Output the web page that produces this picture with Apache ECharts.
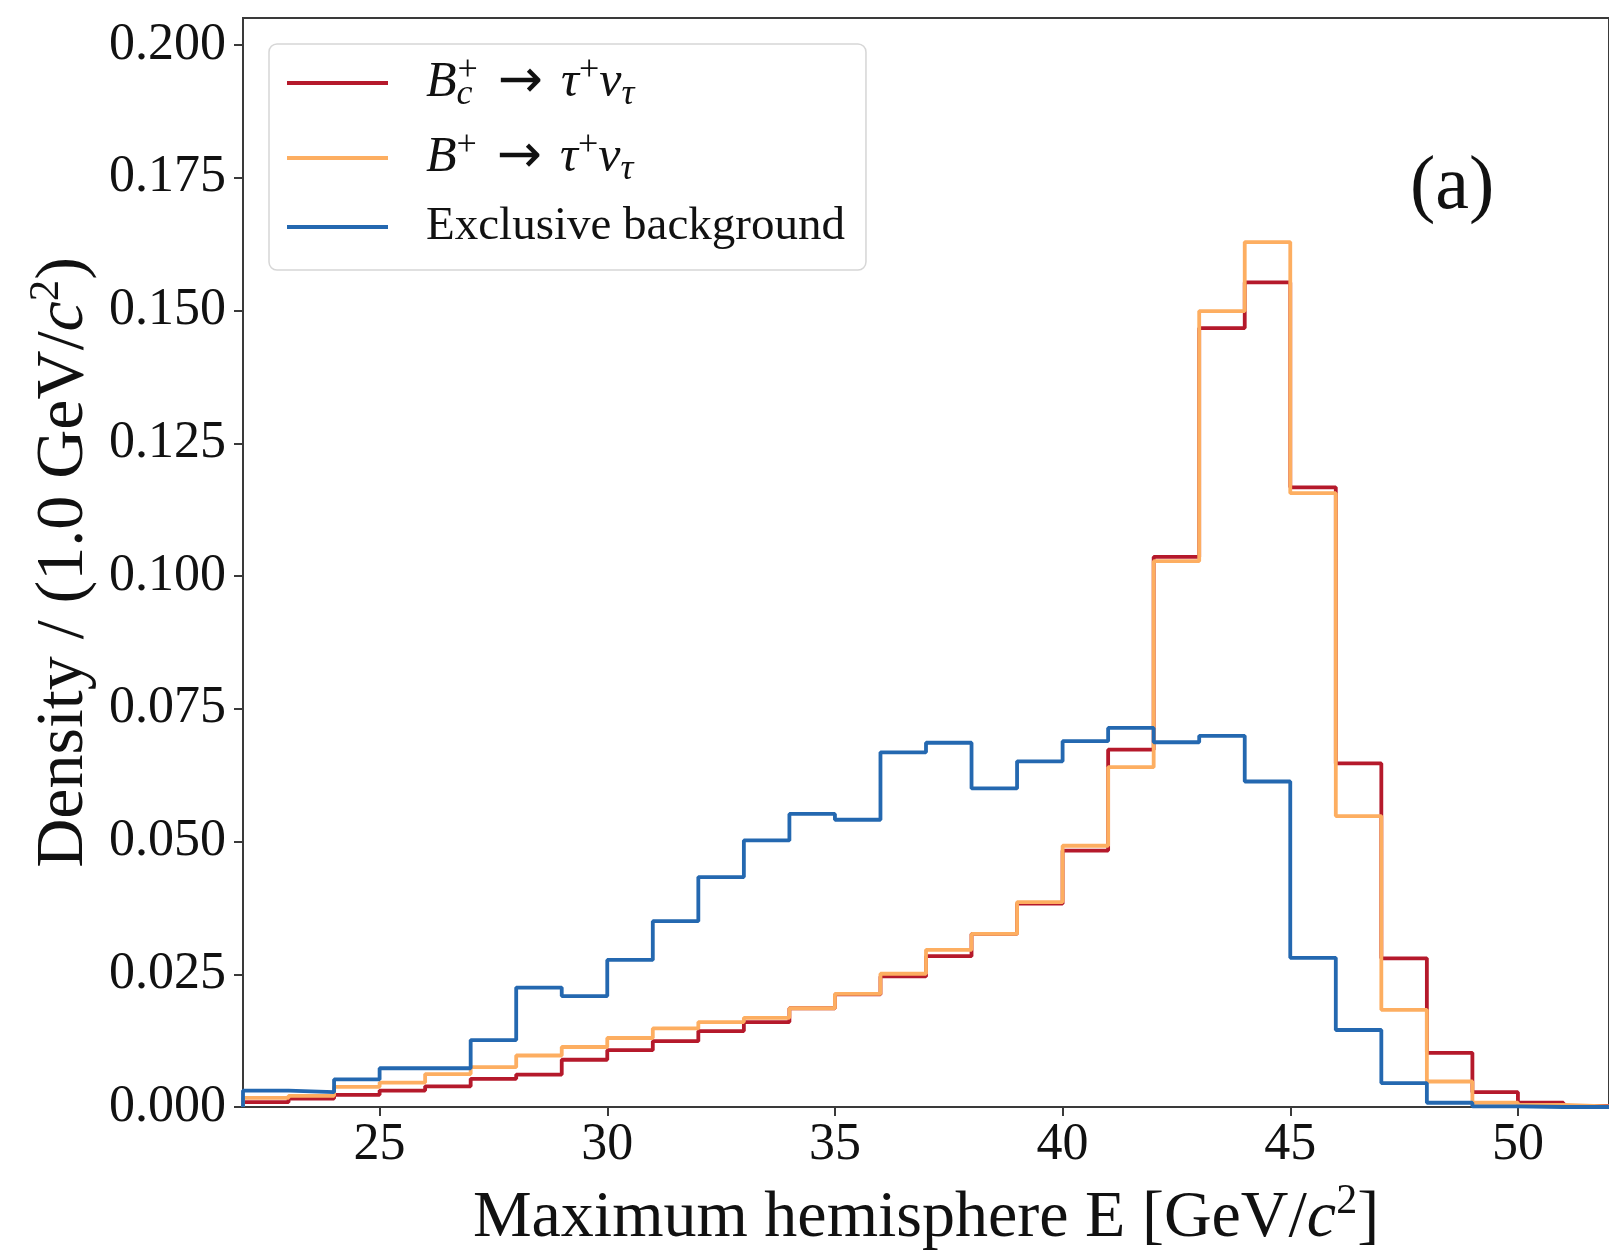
<!DOCTYPE html>
<html>
<head>
<meta charset="utf-8">
<script src="https://cdn.jsdelivr.net/npm/echarts@6/dist/echarts.min.js"></script>
<style>
html,body{margin:0;padding:0;background:#fff;}
#chart{width:1609px;height:1257px;}
</style>
</head>
<body>
<div id="chart"></div>
<script>
// Bin edges 22..52 (1 GeV bins)
const binEdges = [22,23,24,25,26,27,28,29,30,31,32,33,34,35,36,37,38,39,40,41,42,43,44,45,46,47,48,49,50,51,52];
const seriesNames = ['Bc', 'Bp', 'Exclusive background'];
const bcValues = [0.0009,0.0016,0.0023,0.0031,0.0039,0.0053,0.0061,0.0089,0.0107,0.0124,0.0143,0.0160,0.0186,0.0212,0.0246,0.0284,0.0326,0.0383,0.0483,0.0673,0.1036,0.1467,0.1553,0.1167,0.0647,0.0280,0.0102,0.0028,0.0008,0.0002];
const bpValues = [0.0017,0.0021,0.0038,0.0046,0.0062,0.0075,0.0097,0.0113,0.0130,0.0148,0.0160,0.0168,0.0186,0.0213,0.0251,0.0296,0.0326,0.0386,0.0492,0.0640,0.1028,0.1499,0.1629,0.1156,0.0548,0.0183,0.0048,0.0008,0.0004,0.0001];
const bgValues = [0.0031,0.0028,0.0052,0.0073,0.0073,0.0126,0.0225,0.0209,0.0277,0.0350,0.0433,0.0502,0.0552,0.0541,0.0668,0.0686,0.0600,0.0651,0.0689,0.0714,0.0687,0.0699,0.0613,0.0281,0.0145,0.0045,0.0008,0.0001,0,0];
const xTicks = [25,30,35,40,45,50];
const yTicks = [0,0.025,0.05,0.075,0.1,0.125,0.15,0.175,0.2];
const colors = ['#b5192b', '#fdae61', '#2468b0'];

function stepData(vals){
  const d = [[binEdges[0], 0]];
  for (let i = 0; i < vals.length; i++) d.push([binEdges[i], vals[i]]);
  d.push([binEdges[binEdges.length-1], vals[vals.length-1]]);
  d.push([binEdges[binEdges.length-1], 0]);
  return d;
}

const FONT = '"Liberation Serif", "DejaVu Serif", serif';
const chart = echarts.init(document.getElementById('chart'), null, {renderer:'canvas'});

const legendLabels = {
  'Bc': '{g| }{m|B}{subw|c}{sup|+}{arr|→}{m|τ}{sup|+}{m|ν}{sub|τ}',
  'Bp': '{g| }{m|B}{sup|+}{arr|→}{m|τ}{sup|+}{m|ν}{sub|τ}',
  'Exclusive background': '{g| }{t|Exclusive background}'
};

const nameRichX = {
  t: {fontFamily: FONT, fontSize: 66, color: '#111', lineHeight: 76, verticalAlign: 'middle'},
  i: {fontFamily: FONT, fontSize: 66, fontStyle: 'italic', color: '#111', lineHeight: 76, verticalAlign: 'middle'},
  s: {fontFamily: FONT, fontSize: 42, color: '#111', lineHeight: 46, verticalAlign: 'top'}
};
const nameRichY = {
  t: {fontFamily: FONT, fontSize: 68, color: '#111', lineHeight: 78, verticalAlign: 'middle'},
  i: {fontFamily: FONT, fontSize: 68, fontStyle: 'italic', color: '#111', lineHeight: 78, verticalAlign: 'middle'},
  s: {fontFamily: FONT, fontSize: 43, color: '#111', lineHeight: 47, verticalAlign: 'top'}
};

const option = {
  backgroundColor: '#ffffff',
  animation: false,
  grid: {
    left: 243, top: 18, width: 1369, height: 1090,
    show: true, borderColor: '#3a3a3a', borderWidth: 2, backgroundColor: 'transparent'
  },
  xAxis: {
    type: 'value', min: 22, max: 52,
    name: '{t|Maximum hemisphere E [GeV/}{i|c}{s|2}{t|]}',
    nameLocation: 'middle', nameGap: 74,
    nameTextStyle: {rich: nameRichX},
    axisLine: {show: true, onZero: false, lineStyle: {color: '#3a3a3a', width: 2}},
    axisTick: {show: true, length: 9, lineStyle: {color: '#3a3a3a', width: 2}, customValues: xTicks},
    axisLabel: {fontFamily: FONT, fontSize: 52, color: '#111', margin: 12, customValues: xTicks},
    splitLine: {show: false}
  },
  yAxis: {
    type: 'value', min: 0, max: 0.2051,
    name: '{t|Density / (1.0 GeV/}{i|c}{s|2}{t|)}',
    nameLocation: 'middle', nameGap: 136,
    nameTextStyle: {rich: nameRichY},
    axisLine: {show: true, lineStyle: {color: '#3a3a3a', width: 2}},
    axisTick: {show: true, length: 9, lineStyle: {color: '#3a3a3a', width: 2}, customValues: yTicks},
    axisLabel: {fontFamily: FONT, fontSize: 52, color: '#111', margin: 17, customValues: yTicks,
      formatter: v => v.toFixed(3)},
    splitLine: {show: false}
  },
  legend: {
    orient: 'vertical', left: 269, top: 44,
    backgroundColor: '#ffffff', borderColor: '#d6d6d6', borderWidth: 1.5, borderRadius: 8,
    padding: [9, 21, 19, 18], itemGap: 15,
    icon: 'rect', itemWidth: 101, itemHeight: 4,
    data: seriesNames,
    formatter: name => legendLabels[name],
    textStyle: {
      color: '#111',
      rich: {
        g: {width: 33, fontSize: 48, lineHeight: 60},
        t: {fontFamily: FONT, fontSize: 47, color: '#111', lineHeight: 60, verticalAlign: 'middle'},
        m: {fontFamily: FONT, fontSize: 50, fontStyle: 'italic', color: '#111', lineHeight: 60, verticalAlign: 'middle'},
        arr: {fontFamily: '"DejaVu Sans", sans-serif', fontSize: 54, color: '#111', lineHeight: 60, verticalAlign: 'middle', padding: [0, 18, 0, 20]},
        sup: {fontFamily: FONT, fontSize: 36, color: '#111', lineHeight: 30, verticalAlign: 'top'},
        sub: {fontFamily: FONT, fontSize: 36, fontStyle: 'italic', color: '#111', lineHeight: 24, verticalAlign: 'bottom'},
        subw: {fontFamily: FONT, fontSize: 36, fontStyle: 'italic', color: '#111', lineHeight: 24, verticalAlign: 'bottom', width: 1, align: 'left'}
      }
    }
  },
  graphic: [{
    type: 'text', left: 1410, top: 150,
    style: {text: '(a)', font: '76px "Liberation Serif", serif', fill: '#111'}
  }],
  series: [
    {name: seriesNames[0], type: 'line', step: 'end', showSymbol: false, color: colors[0],
     lineStyle: {color: colors[0], width: 3.8}, data: stepData(bcValues), z: 2},
    {name: seriesNames[1], type: 'line', step: 'end', showSymbol: false, color: colors[1],
     lineStyle: {color: colors[1], width: 3.8}, data: stepData(bpValues), z: 3},
    {name: seriesNames[2], type: 'line', step: 'end', showSymbol: false, color: colors[2],
     lineStyle: {color: colors[2], width: 3.8}, data: stepData(bgValues), z: 4}
  ]
};
chart.setOption(option);
</script>
</body>
</html>
